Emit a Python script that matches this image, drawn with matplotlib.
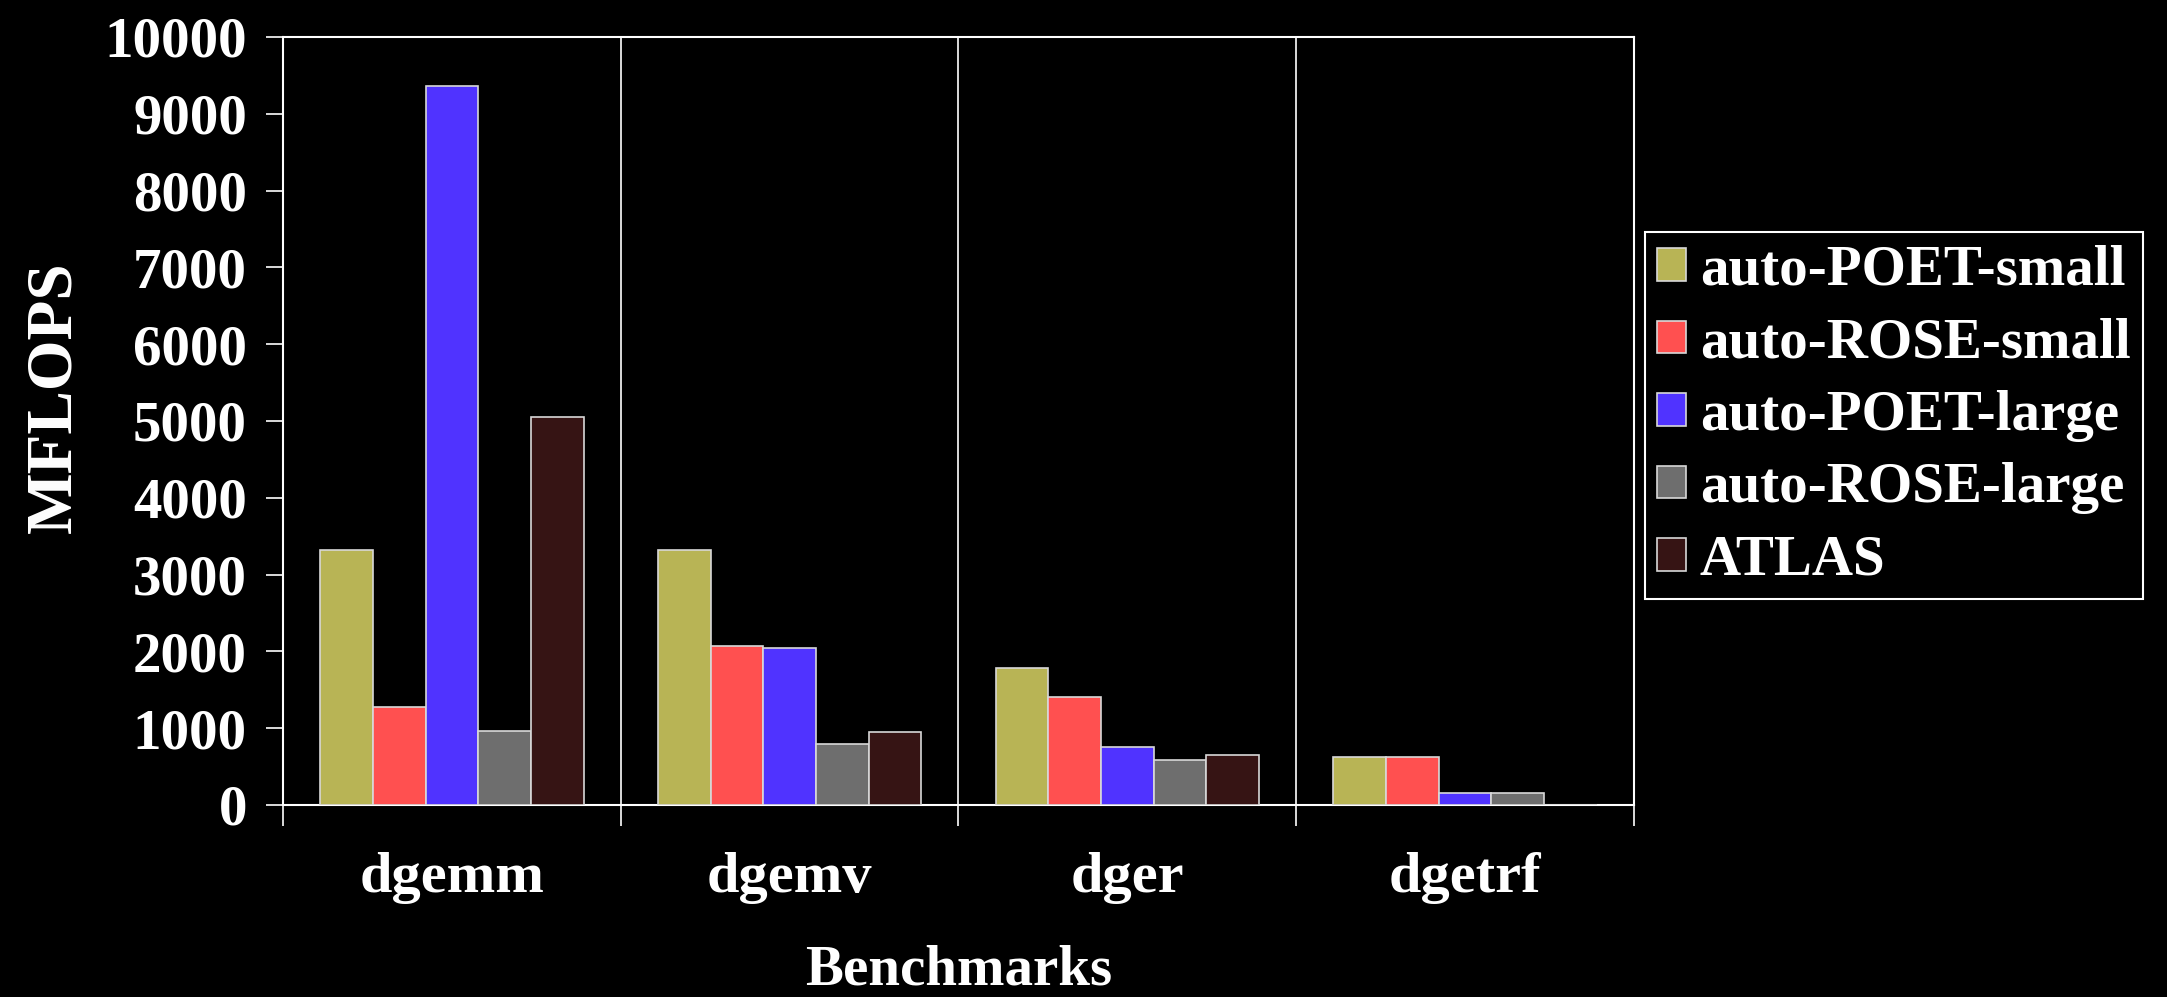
import matplotlib
matplotlib.use("Agg")
import matplotlib.pyplot as plt
import numpy as np

plt.rcParams["font.family"] = "Liberation Serif"
plt.rcParams["font.weight"] = "bold"
plt.rcParams["axes.labelweight"] = "bold"

benchmarks = ["dgemm", "dgemv", "dger", "dgetrf"]
series = ["auto-POET-small", "auto-ROSE-small", "auto-POET-large", "auto-ROSE-large", "ATLAS"]
poet_small = [3320, 3320, 1780, 620]
rose_small = [1280, 2070, 1410, 620]
poet_large = [9360, 2040, 750, 155]
rose_large = [960, 790, 590, 160]
atlas = [5050, 950, 650, 0]
colors = ["#b8b455", "#ff5050", "#5033ff", "#6e6e6e", "#361414"]

values = [poet_small, rose_small, poet_large, rose_large, atlas]

fig = plt.figure(figsize=(21.67, 9.97), dpi=100, facecolor="black")
ax = fig.add_axes([0.1306, 0.1926, 0.754 - 0.1306, 0.963 - 0.1926])
ax.set_facecolor("black")

x = np.arange(len(benchmarks))
w = 0.156
for i, (name, vals) in enumerate(zip(series, values)):
    ax.bar(x + (i - 2) * w, vals, w, color=colors[i], edgecolor="#d8d8d8",
           linewidth=1.2, label=name, zorder=3)

ax.set_xlim(-0.5, 3.5)
ax.set_ylim(0, 10000)
ax.set_yticks(np.arange(0, 10001, 1000))

# category boundaries as major ticks, names as minor ticks
ax.set_xticks(np.arange(-0.5, 4, 1))
ax.set_xticklabels([])
ax.set_xticks(x, benchmarks, minor=True)
ax.tick_params(axis="x", which="major", length=15, width=1.2, color="white", direction="out")
ax.tick_params(axis="x", which="minor", length=0, pad=34, labelsize=42, labelcolor="white")
ax.tick_params(axis="y", length=12, width=1.2, color="white", pad=14,
               labelsize=41, labelcolor="white")
ax.grid(axis="x", which="major", color="white", linewidth=1.2, zorder=1)

for s in ax.spines.values():
    s.set_color("white")
    s.set_linewidth(1.5)

ax.set_ylabel("MFLOPS", fontsize=47, color="white")
ax.yaxis.set_label_coords(-0.169, 0.531)
ax.yaxis.label.set_va("center")
ax.set_xlabel("Benchmarks", fontsize=41, color="white")
ax.xaxis.set_label_coords(0.5, -0.215)
ax.xaxis.label.set_va("center")

leg = ax.legend(loc="upper left", bbox_to_anchor=(0.759, 0.767),
                bbox_transform=fig.transFigure, borderaxespad=0,
                fontsize=41, labelspacing=0.36, handlelength=0.5,
                handleheight=0.5, handletextpad=0.25, borderpad=0.22,
                fancybox=False, facecolor="black", edgecolor="white",
                framealpha=1)
leg.get_frame().set_linewidth(1.5)
for t in leg.get_texts():
    t.set_color("white")

fig.savefig("out.png", dpi=100, facecolor="black")
